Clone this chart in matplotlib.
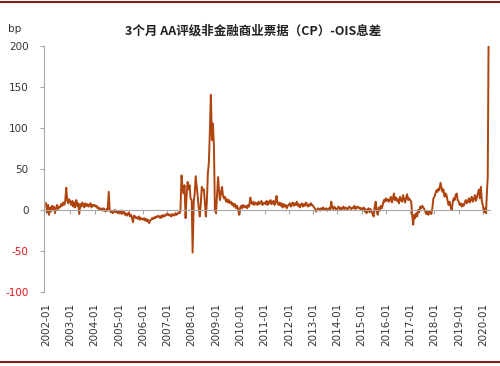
import matplotlib
matplotlib.use('Agg')
import matplotlib.pyplot as plt
import matplotlib.dates as mdates
import pandas as pd
from matplotlib.lines import Line2D

plt.rcParams['font.family'] = ['DejaVu Sans']

# Semi-monthly values (1st and 15th of each month), in bp
y2002 = [8, -3, 6, -6, 3, -2, 5, 0, 4, -4, 2, 6, 1, 4, 3, 7, 5, 9, 6, 10, 27, 12, 8, 13]
y2003 = [10, 6, 11, 4, 9, 3, 12, 5, 8, -5, 7, 4, 9, 6, 3, 8, 5, 7, 4, 6, 8, 3, 6, 5]
y2004 = [6, 4, 5, 2, 3, 0, 2, 1, -1, 2, 0, -2, 1, -1, 22, 0, -3, -1, -4, -2, 0, -3, -2, -4]
y2005 = [-2, -4, -1, -5, -3, -2, -6, -4, -7, -5, -3, -8, -6, -9, -15, -7, -8, -10, -9, -11, -8, -12, -10, -11]
y2006 = [-12, -10, -13, -11, -14, -12, -16, -13, -12, -10, -11, -9, -10, -8, -9, -7, -8, -10, -7, -9, -6, -8, -7, -5]
y2007 = [-6, -5, -7, -6, -8, -5, -6, -7, -4, -6, -5, -3, -4, -2, 42, 28, 20, 30, -10, 15, 34, 25, 30, 14]
y2008 = [12, -52, 10, 20, 41, 30, 16, 3, -8, 5, 28, 24, 25, 12, -8, 8, 45, 57, 97, 140, 85, 105, 77, 0]
y2009 = [-4, 15, 40, 24, 12, 20, 28, 18, 14, 16, 10, 13, 9, 12, 8, 10, 6, 8, 4, 7, 2, 5, 0, -6]
y2010 = [3, 5, 2, 6, 4, 3, 5, 2, 6, 4, 15, 9, 7, 10, 6, 9, 8, 6, 10, 7, 9, 11, 6, 8]
y2011 = [9, 7, 11, 6, 10, 8, 12, 7, 9, 11, 6, 10, 17, 8, 6, 9, 5, 8, 3, 7, 4, 6, 2, 5]
y2012 = [6, 8, 4, 7, 9, 5, 8, 6, 10, 5, 7, 3, 6, 8, 4, 7, 5, 9, 6, 4, 7, 5, 8, 6]
y2013 = [5, 3, 1, -2, 0, 2, 1, -1, 2, 0, 3, 1, 0, 2, -1, 1, 2, 0, 10, 3, 1, 4, 2, 0]
y2014 = [2, 4, 1, 3, 0, 2, 4, 1, 3, 2, 0, 3, 4, 2, 1, 3, 2, 5, 1, 3, 4, 2, 3, 1]
y2015 = [2, 0, 3, -2, 1, -4, 0, 2, -3, 1, -2, -5, -8, 4, 10, -2, -6, 3, -1, 5, 2, 6, 12, 10]
y2016 = [14, 11, 13, 10, 12, 16, 9, 14, 20, 12, 15, 11, 13, 8, 16, 12, 10, 18, 13, 9, 15, 19, 12, 14]
y2017 = [12, 10, -8, -18, -6, -10, -4, -8, 0, -3, 4, 2, 5, 3, 1, -2, -5, -1, -6, -3, -2, -5, 3, 14]
y2018 = [16, 20, 24, 22, 26, 24, 33, 28, 22, 25, 16, 20, 18, 12, 6, 10, 4, 0, 8, 14, 12, 18, 20, 12]
y2019 = [10, 6, 8, 4, 7, 5, 9, 12, 8, 10, 14, 9, 12, 16, 10, 13, 18, 11, 15, 20, 25, 14, 28, 10]

tail_dates = ['2020-01-01', '2020-01-15', '2020-02-01', '2020-02-15', '2020-03-01', '2020-03-12', '2020-03-24']
tail_values = [5, -3, 2, -4, 24, 40, 199]

tick_labels = ['2002-01', '2003-01', '2004-01', '2005-01', '2006-01', '2007-01', '2008-01',
               '2009-01', '2010-01', '2011-01', '2012-01', '2013-01', '2014-01', '2015-01',
               '2016-01', '2017-01', '2018-01', '2019-01', '2020-01']
yticks = [-100, -50, 0, 50, 100, 150, 200]
title = '3个月 AA评级非金融商业票据（CP）-OIS息差'

yearly = [y2002, y2003, y2004, y2005, y2006, y2007, y2008, y2009, y2010, y2011,
          y2012, y2013, y2014, y2015, y2016, y2017, y2018, y2019]
main_values = [v for yr in yearly for v in yr]
main_dates = pd.date_range('2002-01-01', periods=len(main_values), freq='SMS')
dates = list(main_dates) + list(pd.to_datetime(tail_dates))
values = main_values + tail_values
x = mdates.date2num(dates)

fig = plt.figure(figsize=(5, 3.66), dpi=100)
ax = fig.add_axes([0.088, 0.202, 0.892, 0.6735])
ax.plot(x, values, color='#B0440E', lw=1.4, zorder=2)
ax.set_ylim(-100, 200)
ax.set_xlim(mdates.date2num(pd.Timestamp('2001-12-01')),
            mdates.date2num(pd.Timestamp('2020-04-15')))

tick_pos = mdates.date2num(pd.to_datetime([t + '-01' for t in tick_labels]))

for s in ['top', 'right']:
    ax.spines[s].set_visible(False)
ax.spines['left'].set_color('#A6A6A6')
ax.spines['bottom'].set_color('#A6A6A6')
ax.spines['bottom'].set_position(('data', 0))
ax.spines['bottom'].set_zorder(3)
ax.set_xticks(tick_pos)
ax.tick_params(axis='x', direction='out', length=3, color='#A6A6A6', labelbottom=False)
ax.set_yticks(yticks)
ax.set_yticklabels([str(v) for v in yticks])
ax.tick_params(axis='y', direction='out', length=3, color='#A6A6A6', pad=8,
               labelsize=7.5, labelcolor='#333333')
for lbl, v in zip(ax.get_yticklabels(), yticks):
    if v < 0:
        lbl.set_color('#E8141E')

sec = ax.secondary_xaxis(0.0)
sec.set_xticks(tick_pos)
sec.set_xticklabels(tick_labels, rotation=90, fontsize=7.5, color='#333333')
sec.tick_params(length=0, pad=8)
sec.spines['bottom'].set_visible(False)

fig.text(0.506, 1 - 31 / 366, title, ha='center', va='center', fontsize=9,
         fontweight='bold', family=['Noto Sans CJK SC', 'DejaVu Sans'], color='#222222')
fig.text(8 / 500, 1 - 29 / 366, 'bp', ha='left', va='center', fontsize=7.5, color='#333333')

fig.add_artist(Line2D([0, 1], [1 - 1.5 / 366] * 2, transform=fig.transFigure,
                      color='#7F1F1F', lw=1.5))
fig.add_artist(Line2D([0, 1], [1 - 362 / 366] * 2, transform=fig.transFigure,
                      color='#7F1F1F', lw=1.5))

fig.savefig('out.png', dpi=100)
